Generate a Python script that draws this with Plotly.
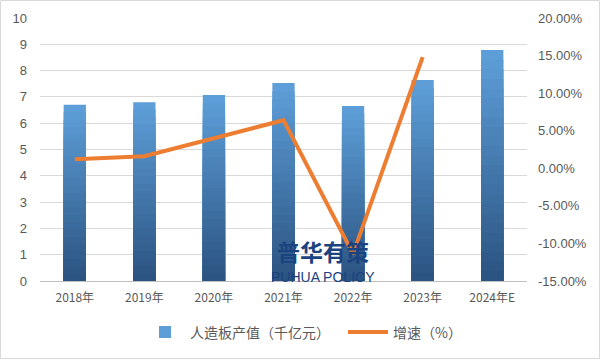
import plotly.graph_objects as go

categories = ["2018年", "2019年", "2020年", "2021年", "2022年", "2023年", "2024年E"]
output_values = [6.7, 6.8, 7.07, 7.53, 6.65, 7.64, 8.78]
growth_categories = ["2018年", "2019年", "2020年", "2021年", "2022年", "2023年"]
growth_values = [1.2, 1.6, 4.0, 6.4, -11.4, 14.8]
left_ticks = list(range(0, 11))
right_ticks = [-15, -10, -5, 0, 5, 10, 15, 20]
right_labels = [f"{v:.2f}%" for v in right_ticks]

W, H = 601, 360
ML, MR, MT, MB = 40, 74, 18, 79

fig = go.Figure()

# gradient bars: stacked overlay layers from light (top) to dark (bottom)
top_rgb = (93, 158, 216)
bot_rgb = (44, 84, 130)
steps = 24
for i in range(steps):
    f = 1 - i / steps
    t = i / (steps - 1)
    r = round(top_rgb[0] + (bot_rgb[0] - top_rgb[0]) * t)
    g = round(top_rgb[1] + (bot_rgb[1] - top_rgb[1]) * t)
    b = round(top_rgb[2] + (bot_rgb[2] - top_rgb[2]) * t)
    fig.add_trace(go.Bar(
        x=categories,
        y=[v * f for v in output_values],
        name="人造板产值（千亿元）",
        marker=dict(color=f"rgb({r},{g},{b})", line=dict(width=0)),
        width=0.32,
        showlegend=(i == 0),
        legendrank=1,
        hoverinfo="skip" if i else None,
        yaxis="y",
    ))

fig.add_trace(go.Scatter(
    x=growth_categories,
    y=growth_values,
    name="增速（%）",
    mode="lines",
    line=dict(color="#ED7D31", width=4),
    yaxis="y2",
    legendrank=2,
))

pw = W - ML - MR
ph = H - MT - MB
fig.add_shape(type="rect", xref="paper", yref="paper",
              x0=-(ML - 0.5) / pw, x1=1 + (MR - 1.5) / pw,
              y0=-(MB - 1.5) / ph, y1=1 + (MT - 0.5) / ph,
              line=dict(color="#D9D9D9", width=1), fillcolor="rgba(0,0,0,0)", layer="below")

fig.add_annotation(text="<b>普华有策</b>", xref="paper", yref="paper",
                   x=(323 - ML) / pw, y=(MT + ph - 270) / ph, showarrow=False,
                   font=dict(family="Noto Sans CJK SC", size=23, color="#1B437F"))
fig.add_annotation(text="PUHUA POLICY", xref="paper", yref="paper",
                   x=(323 - ML) / pw, y=(MT + ph - 287) / ph, showarrow=False,
                   font=dict(family="Liberation Sans", size=14, color="#1B437F"))

fig.update_layout(
    width=W, height=H,
    margin=dict(l=ML, r=MR, t=MT, b=MB, autoexpand=False),
    paper_bgcolor="white", plot_bgcolor="white",
    barmode="overlay",
    font=dict(family="Liberation Sans, Noto Sans CJK SC", size=12, color="#595959"),
    xaxis=dict(type="category", showgrid=False, showline=True, linecolor="#BFBFBF",
               ticks="", automargin=False,
               tickfont=dict(size=12, color="#595959", family="Noto Sans CJK SC, Liberation Sans"),
               ticklabelstandoff=6),
    yaxis=dict(range=[0, 10], tickvals=left_ticks, showgrid=True, gridcolor="#D9D9D9",
               zeroline=False, showline=False, ticks="", tickfont=dict(size=13),
               ticklabelstandoff=12, automargin=False),
    yaxis2=dict(range=[-15, 20], tickvals=right_ticks, ticktext=right_labels,
                overlaying="y", side="right", automargin=False,
                showgrid=False, zeroline=False, ticks="",
                tickfont=dict(size=13), ticklabelstandoff=10),
    legend=dict(orientation="h", x=(140 - ML) / pw, xanchor="left", y=-0.135, yanchor="top",
                font=dict(size=14, family="Noto Sans CJK SC"), itemwidth=40,
                entrywidth=148, entrywidthmode="pixels"),
    showlegend=True,
)

fig.write_html("out.html", post_script="document.body.style.margin='0';",
               config={"displayModeBar": False})
